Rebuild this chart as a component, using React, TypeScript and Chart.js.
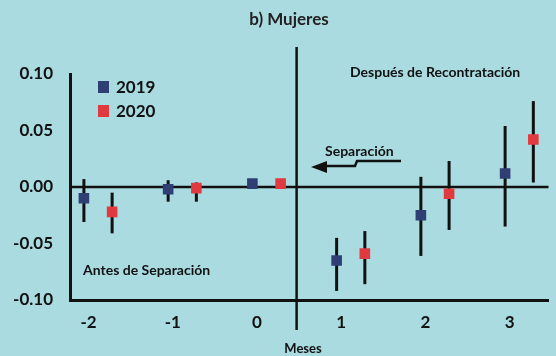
import React, { useEffect, useRef } from 'react';
import { Chart, registerables } from 'chart.js';
Chart.register(...registerables);

const months = [-2, -1, 0, 1, 2, 3];
const xTickLabels = ['-2', '-1', '0', '1', '2', '3'];
const yTicks = [-0.1, -0.05, 0, 0.05, 0.1];
const seriesNames = ['2019', '2020'];
const values2019 = [-0.010, -0.002, 0.003, -0.065, -0.025, 0.012];
const low2019 = [-0.031, -0.013, null, -0.092, -0.061, -0.035];
const high2019 = [0.007, 0.006, null, -0.045, 0.009, 0.054];
const values2020 = [-0.022, -0.001, 0.003, -0.059, -0.006, 0.042];
const low2020 = [-0.041, -0.013, null, -0.086, -0.038, 0.004];
const high2020 = [-0.005, 0.004, null, -0.039, 0.023, 0.076];

const OFFSET_2019 = -0.055;
const OFFSET_2020 = 0.28;
const DIVIDER_X = 0.47;
const BLUE = '#2f3f74';
const RED = '#e0393f';
const BG = '#a9dbe1';
const INK = '#111111';
const FONT = 'Lato, "Open Sans", sans-serif';

const overlay = {
  id: 'overlay',
  beforeDraw(chart: any) {
    const { ctx, width, height } = chart;
    ctx.save();
    ctx.fillStyle = BG;
    ctx.fillRect(0, 0, width, height);
    ctx.restore();
  },
  beforeDatasetsDraw(chart: any) {
    const { ctx, chartArea, scales } = chart;
    const xs = scales.x, ys = scales.y;
    ctx.save();
    ctx.strokeStyle = INK;
    // zero line
    ctx.lineWidth = 2.5;
    ctx.beginPath();
    ctx.moveTo(chartArea.left, ys.getPixelForValue(0));
    ctx.lineTo(chartArea.right, ys.getPixelForValue(0));
    ctx.stroke();
    // divider
    const dx = xs.getPixelForValue(DIVIDER_X);
    ctx.beginPath();
    ctx.moveTo(dx, chartArea.top - 27);
    ctx.lineTo(dx, chartArea.bottom + 30);
    ctx.stroke();
    // error bars
    ctx.lineWidth = 3;
    const drawBars = (off: number, lo: (number | null)[], hi: (number | null)[]) => {
      months.forEach((m, i) => {
        const l = lo[i], h = hi[i];
        if (l == null || h == null) return;
        const px = xs.getPixelForValue(m + off);
        ctx.beginPath();
        ctx.moveTo(px, ys.getPixelForValue(h));
        ctx.lineTo(px, ys.getPixelForValue(l));
        ctx.stroke();
      });
    };
    drawBars(OFFSET_2019, low2019, high2019);
    drawBars(OFFSET_2020, low2020, high2020);
    ctx.restore();
  },
  afterDraw(chart: any) {
    const { ctx, chartArea } = chart;
    ctx.save();
    ctx.fillStyle = INK;
    ctx.textBaseline = 'middle';
    // title
    ctx.textAlign = 'center';
    ctx.font = `bold 17px ${FONT}`;
    ctx.fillStyle = '#222';
    ctx.fillText('b) Mujeres', 289, 20);
    ctx.fillStyle = INK;
    // axis title
    ctx.font = `bold 13px ${FONT}`;
    ctx.fillText('Meses', 303, 349);
    // annotations
    ctx.textAlign = 'left';
    ctx.font = `bold 14px ${FONT}`;
    ctx.fillText('Después de Recontratación', 350, 72);
    ctx.fillText('Separación', 325, 151);
    ctx.fillText('Antes de Separación', 83, 270);
    // arrow
    ctx.strokeStyle = INK;
    ctx.lineWidth = 2.5;
    ctx.beginPath();
    ctx.moveTo(401, 161);
    ctx.lineTo(357, 161);
    ctx.lineTo(355, 166);
    ctx.lineTo(324, 166);
    ctx.stroke();
    ctx.beginPath();
    ctx.moveTo(311, 167);
    ctx.lineTo(327, 161);
    ctx.lineTo(327, 173);
    ctx.closePath();
    ctx.fill();
    // legend
    const colors = [BLUE, RED];
    ctx.font = `bold 17px ${FONT}`;
    seriesNames.forEach((name, i) => {
      const cy = chartArea.top + 13 + i * 24;
      ctx.fillStyle = colors[i];
      ctx.fillRect(98, cy - 6, 11, 12);
      ctx.fillStyle = INK;
      ctx.fillText(name, 116, cy + 1);
    });
    ctx.restore();
  },
};

export default function App() {
  const ref = useRef<HTMLCanvasElement | null>(null);
  useEffect(() => {
    document.body.style.margin = '0';
    document.body.style.background = BG;
    const canvas = ref.current!;
    const tickFont = { family: FONT, size: 17, weight: 'bold' as const };
    const chart = new Chart(canvas, {
      type: 'scatter',
      data: {
        datasets: [
          {
            label: seriesNames[0],
            data: months.map((m, i) => ({ x: m + OFFSET_2019, y: values2019[i] })),
            backgroundColor: BLUE,
            borderWidth: 0,
            pointStyle: 'rect',
            pointRadius: 7.5,
          },
          {
            label: seriesNames[1],
            data: months.map((m, i) => ({ x: m + OFFSET_2020, y: values2020[i] })),
            backgroundColor: RED,
            borderWidth: 0,
            pointStyle: 'rect',
            pointRadius: 7.5,
          },
        ],
      },
      options: {
        responsive: false,
        animation: false,
        devicePixelRatio: 1,
        layout: { padding: { top: 74, left: 0, right: 0, bottom: 0 } },
        plugins: { legend: { display: false }, title: { display: false }, tooltip: { enabled: false } },
        scales: {
          x: {
            type: 'linear',
            min: -2.22,
            max: 3.46,
            afterBuildTicks: (s: any) => { s.ticks = months.map((v) => ({ value: v })); },
            afterFit: (s: any) => { s.height = 56; },
            ticks: {
              callback: (v: any) => xTickLabels[months.indexOf(Number(v))] ?? '',
              font: tickFont,
              color: INK,
              padding: 12,
              autoSkip: false,
              maxRotation: 0,
            },
            grid: { display: false, drawTicks: false },
            border: { display: true, color: INK, width: 3 },
          },
          y: {
            min: -0.1,
            max: 0.1,
            afterBuildTicks: (s: any) => { s.ticks = yTicks.map((v) => ({ value: v })); },
            afterFit: (s: any) => { s.width = 70; },
            ticks: {
              callback: (v: any) => Number(v).toFixed(2).replace('-0.00', '0.00'),
              font: tickFont,
              color: INK,
              padding: 17,
            },
            grid: { display: false, drawTicks: false },
            border: { display: true, color: INK, width: 3 },
          },
        },
      },
      plugins: [overlay],
    });
    return () => chart.destroy();
  }, []);
  return (
    <div style={{ position: 'fixed', left: 0, top: 0, width: 556, height: 356 }}>
      <canvas ref={ref} width={556} height={356} />
    </div>
  );
}
